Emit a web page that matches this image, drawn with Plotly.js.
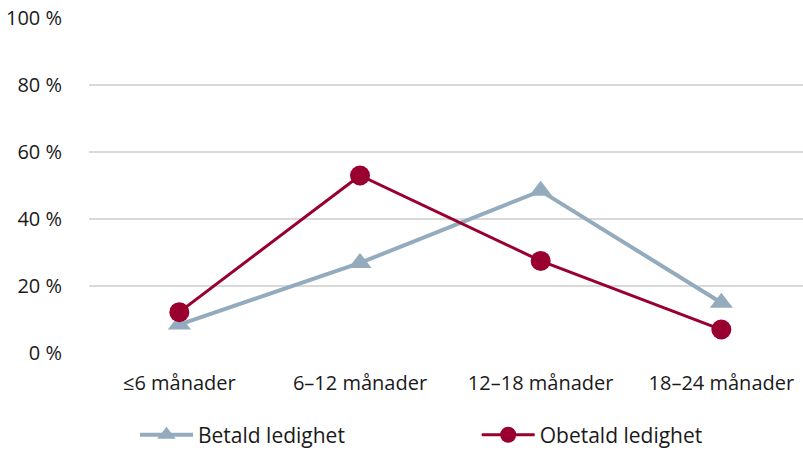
<!DOCTYPE html>
<html>
<head>
<meta charset="utf-8">
<script src="https://cdn.plot.ly/plotly-3.0.1.min.js"></script>
<style>html,body{margin:0;padding:0;background:#fff;}#chart{width:803px;height:451px;}</style>
</head>
<body>
<div id="chart"></div>
<script>
const categories = ["≤6 månader", "6–12 månader", "12–18 månader", "18–24 månader"];
const betald = [8.5, 26.9, 48.4, 15.0];
const obetald = [12.2, 53.0, 27.5, 7.0];
const yTickVals = [0, 20, 40, 60, 80, 100];
const yTickText = ["0 %", "20 %", "40 %", "60 %", "80 %", "100 %"];

const font = {family: "'Open Sans', sans-serif", size: 20, color: "#1a1a1a"};
const legendFont = {family: "'Open Sans', sans-serif", size: 21, color: "#1a1a1a"};

const traces = [
  {
    x: [0,1,2,3], y: betald, name: "Betald ledighet", type: "scatter", mode: "lines+markers",
    line: {color: "#93abbc", width: 4},
    marker: {symbol: "triangle-up", size: 20, color: "#93abbc"},
    legend: "legend"
  },
  {
    x: [0,1,2,3], y: obetald, name: "Obetald ledighet", type: "scatter", mode: "lines+markers",
    line: {color: "#99002f", width: 3},
    marker: {symbol: "circle", size: 20, color: "#99002f"},
    legend: "legend2"
  }
];

const layout = {
  width: 803, height: 451,
  margin: {l: 89, r: 0, t: 18, b: 98, pad: 0, autoexpand: false},
  paper_bgcolor: "#fff", plot_bgcolor: "#fff",
  font: font,
  showlegend: true,
  legend: {orientation: "h", x: 0.0644, xanchor: "left", y: -0.245, yanchor: "middle", font: legendFont, itemwidth: 53},
  legend2: {orientation: "h", x: 0.543, xanchor: "left", y: -0.245, yanchor: "middle", font: legendFont, itemwidth: 53},
  xaxis: {
    range: [-0.5, 3.452], tickvals: [0,1,2,3], ticktext: categories,
    showgrid: false, zeroline: false, showline: false, automargin: false,
    ticks: "outside", ticklen: 12, tickcolor: "rgba(0,0,0,0)", fixedrange: true
  },
  yaxis: {
    range: [0, 100], tickvals: yTickVals, ticktext: yTickText,
    showgrid: true, gridcolor: "#d9d9d9", gridwidth: 2, zeroline: false, showline: false, automargin: false,
    ticks: "outside", ticklen: 22, tickcolor: "rgba(0,0,0,0)", fixedrange: true
  }
};

Plotly.newPlot("chart", traces, layout, {displayModeBar: false, staticPlot: true});
</script>
</body>
</html>
